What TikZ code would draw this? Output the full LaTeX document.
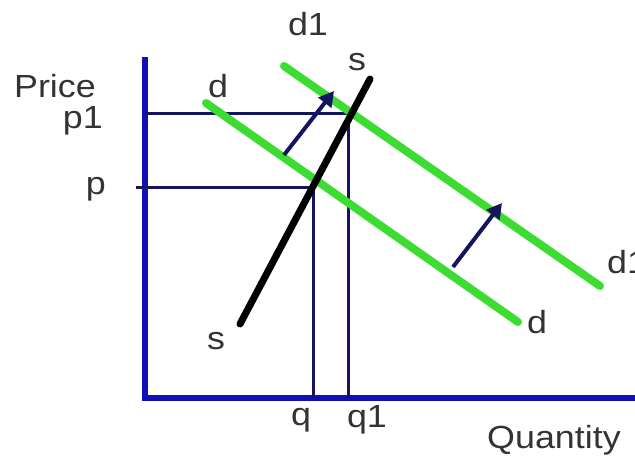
\documentclass[tikz,border=0pt]{standalone}
\usepackage{fontspec}
\setmainfont{Liberation Sans}[FakeStretch=1.12]
\usetikzlibrary{arrows.meta}

\definecolor{axisblue}{RGB}{16,16,180}
\definecolor{guidenavy}{RGB}{20,20,95}
\definecolor{demandgreen}{RGB}{60,220,50}

\begin{document}
\begin{tikzpicture}[
    x=1pt, y=-1pt,
    lbl/.style={font=\fontsize{32}{34}\selectfont, inner sep=0pt, text=black!80},
    axisline/.style={axisblue, line width=6pt},
    guide/.style={guidenavy, line width=3pt},
    demand/.style={demandgreen, line width=8pt, line cap=round},
    supply/.style={black, line width=7pt, line cap=round},
    shiftarrow/.style={guidenavy, line width=4pt, -{Triangle[length=15pt, width=16pt]}}
]
\useasboundingbox (0,0) rectangle (635,456);

% axes
\coordinate (origin) at (145,398);
\coordinate (ytop) at (145,57);
\coordinate (xend) at (640,398);
\draw[axisline] (ytop) -- (origin) -- (xend);

% equilibrium points
\coordinate (eq) at (313,187);
\coordinate (eqone) at (348,113);
\coordinate (ptick) at (136,187);
\coordinate (pone) at (145,113);
\coordinate (qfoot) at (313,398);
\coordinate (qonefoot) at (348,398);

\draw[guide] (ptick) -- (eq) -- (qfoot);
\draw[guide] (pone) -- (eqone) -- (qonefoot);

% demand curves
\coordinate (dstart) at (206,103);
\coordinate (dend) at (518,322);
\coordinate (donestart) at (284,66);
\coordinate (doneend) at (600,286);
\draw[demand] (dstart) -- (dend);
\draw[demand] (donestart) -- (doneend);

% supply curve
\coordinate (sstart) at (240,324);
\coordinate (send) at (370,79);
\draw[supply] (sstart) -- (send);

% shift arrows
\coordinate (aone) at (284,155);
\coordinate (aonetip) at (334,91);
\coordinate (atwo) at (453,267);
\coordinate (atwotip) at (502,203);
\draw[shiftarrow] (aone) -- (aonetip);
\draw[shiftarrow] (atwo) -- (atwotip);

% labels
\node[lbl, anchor=east] (price) at (96,86) {Price};
\node[lbl, anchor=east] (ponelbl) at (103,121) {p1};
\node[lbl, anchor=east] (plbl) at (106,189) {p};
\node[lbl] (dlbl) at (218,86) {d};
\node[lbl] (donelbl) at (308,24) {d1};
\node[lbl] (sonelbl) at (357,62) {s};
\node[lbl, anchor=west] (donelbltwo) at (607,262) {d1};
\node[lbl, anchor=west] (dlbltwo) at (527,322) {d};
\node[lbl] (slbl) at (216,341) {s};
\node[lbl] (qlbl) at (301,420) {q};
\node[lbl] (qonelbl) at (367,420) {q1};
\node[lbl, anchor=west] (qty) at (487,440) {Quantity};
\end{tikzpicture}
\end{document}
